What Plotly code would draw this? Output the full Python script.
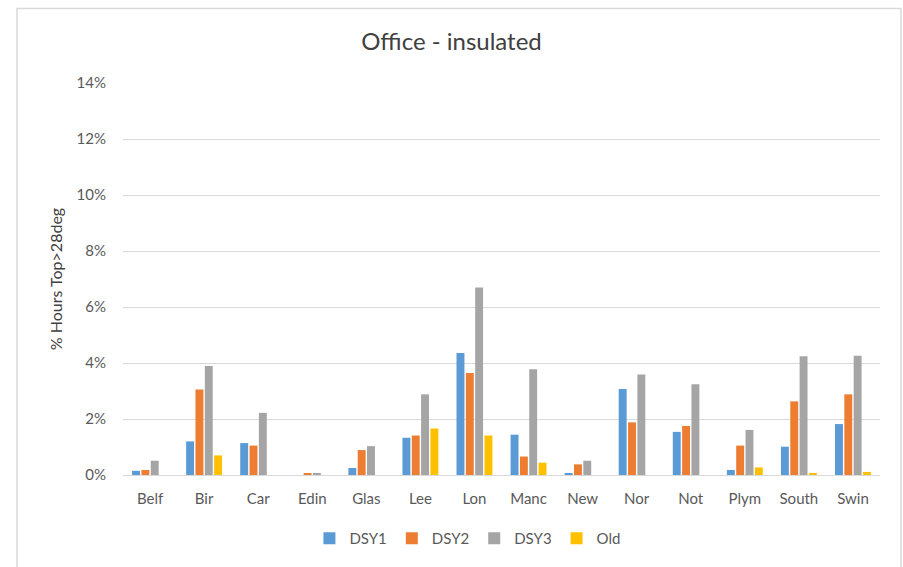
import plotly.graph_objects as go

cities = ["Belf", "Bir", "Car", "Edin", "Glas", "Lee", "Lon",
          "Manc", "New", "Nor", "Not", "Plym", "South", "Swin"]

# % hours with operative temperature above 28 deg (as fractions)
dsy1 = [0.0015, 0.0120, 0.0114, 0.0000, 0.0025, 0.0133, 0.0436,
        0.0144, 0.0007, 0.0307, 0.0154, 0.0018, 0.0101, 0.0182]
dsy2 = [0.0018, 0.0305, 0.0105, 0.0005, 0.0089, 0.0141, 0.0364,
        0.0066, 0.0038, 0.0188, 0.0175, 0.0105, 0.0263, 0.0288]
dsy3 = [0.0051, 0.0389, 0.0222, 0.0007, 0.0103, 0.0288, 0.0670,
        0.0378, 0.0051, 0.0359, 0.0324, 0.0161, 0.0424, 0.0426]
old = [0.0000, 0.0070, 0.0000, 0.0000, 0.0000, 0.0166, 0.0141,
       0.0044, 0.0000, 0.0000, 0.0000, 0.0027, 0.0005, 0.0011]

series = [
    ("DSY1", dsy1, "#5B9BD5"),
    ("DSY2", dsy2, "#ED7D31"),
    ("DSY3", dsy3, "#A5A5A5"),
    ("Old", old, "#FFC000"),
]

FONT = "Lato, 'Open Sans', sans-serif"
GREY_TXT = "#595959"

fig = go.Figure()
for name, vals, colour in series:
    fig.add_trace(go.Bar(x=cities, y=vals, name=name, marker_color=colour,
                         marker_line_width=0))

fig.update_layout(
    width=903,
    height=567,
    margin=dict(l=123, r=23, t=83, b=88),
    paper_bgcolor="white",
    plot_bgcolor="white",
    font=dict(family=FONT, color=GREY_TXT, size=15),
    title=dict(text="Office - insulated", x=0.5, xanchor="center",
               y=0.927, yanchor="middle",
               font=dict(size=24, color="#404040")),
    barmode="group",
    bargap=0.31,
    bargroupgap=0.15,
    showlegend=True,
    legend=dict(orientation="h", x=0.455, xanchor="center",
                y=-0.162, yanchor="middle",
                font=dict(size=15, color=GREY_TXT),
                itemwidth=30, tracegroupgap=0),
    xaxis=dict(showgrid=False, showline=True, linecolor="#D9D9D9",
               linewidth=1, ticks="", ticklabelstandoff=10,
               tickfont=dict(size=15)),
    yaxis=dict(range=[0, 0.14], dtick=0.02, tickformat=".0%",
               showgrid=True, gridcolor="#D9D9D9", gridwidth=1,
               zeroline=False, showline=False, ticklabelstandoff=16,
               tickfont=dict(size=15),
               title=dict(text="% Hours Top>28deg", standoff=9,
                          font=dict(size=16, color="#404040"))),
    # light frame around the whole chart
    shapes=[dict(type="rect", xref="paper", yref="paper",
                 x0=-0.14, x1=1.0277, y0=-0.25, y1=1.19,
                 line=dict(color="#D9D9D9", width=1.5),
                 fillcolor="rgba(0,0,0,0)", layer="below")],
)

# drop the default 8px body margin so the figure sits flush in the window
fig.write_html("out.html", config={"displayModeBar": False},
               post_script="document.body.style.margin='0';")
